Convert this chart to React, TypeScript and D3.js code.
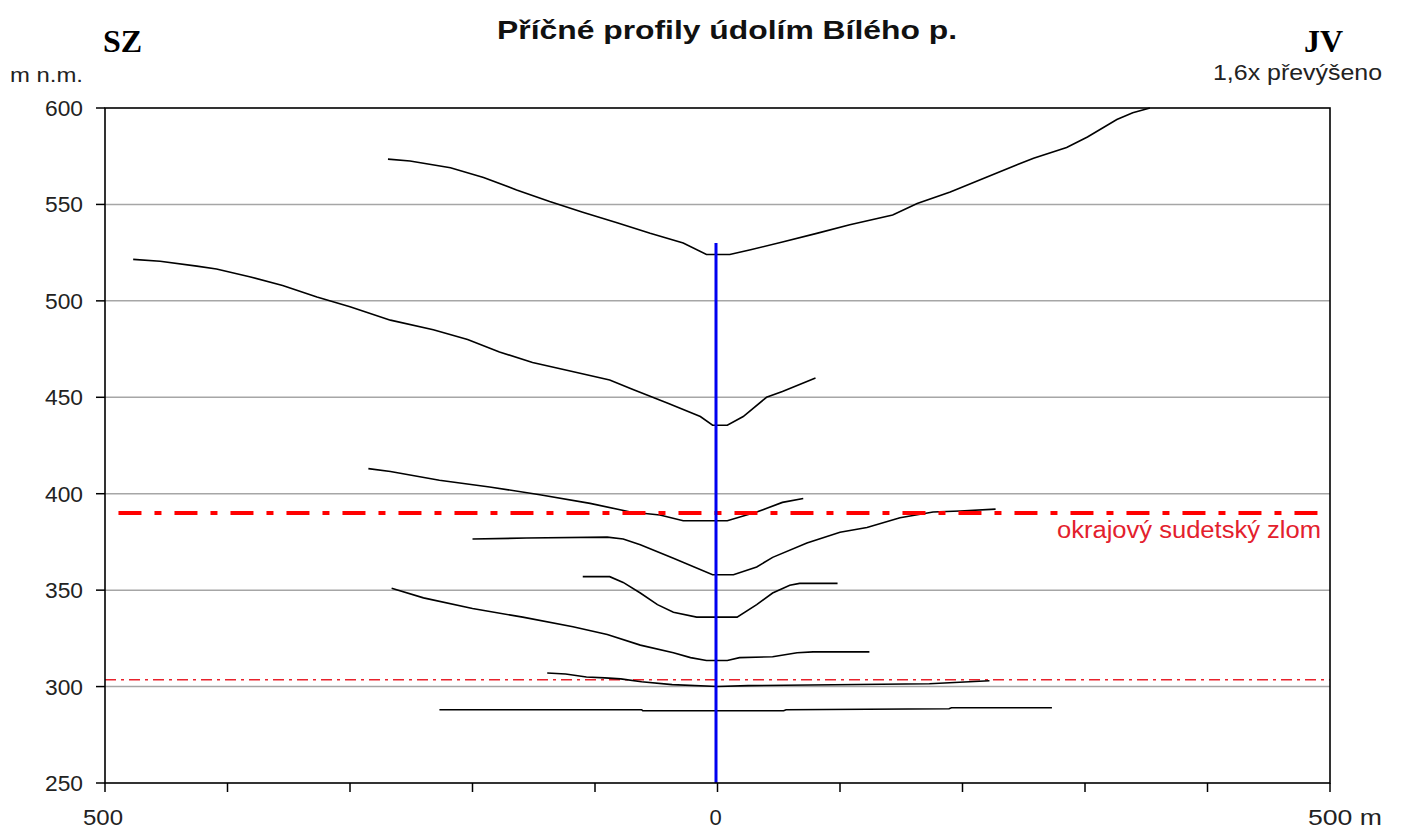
import React, { useEffect } from "react";
import * as d3 from "d3";

// ---- data (m relative to valley axis, m n.m.) ----
const p1x = [-269, -251, -218, -191, -164, -137, -110, -82, -55, -28, -9, 10, 27, 53, 81, 108, 143, 163, 190, 217, 258, 285, 302, 326, 339, 353];
const p1y = [573.5, 572.5, 569, 564, 557.5, 551.5, 546, 540.5, 535, 530, 524, 524, 526.5, 530.5, 535, 539.5, 544.5, 550.5, 556.5, 563.5, 574, 579.5, 585, 594, 597.5, 600];

const p2x = [-477, -455, -425, -409, -382, -355, -327, -300, -267, -232, -204, -178, -151, -123, -88, -69, -41, -14, -4, 8, 21, 40, 53, 80];
const p2y = [521.5, 520.5, 518, 516.5, 512.5, 508, 502, 497, 490, 485, 480, 473.5, 468, 464, 459, 454, 447, 440, 435.5, 435.5, 440, 450, 453, 460];

const p3x = [-285, -267, -227, -186, -145, -104, -71, -47, -28, 8, 32, 53, 70];
const p3y = [413, 411.5, 407, 403.5, 399.5, 395, 390.5, 389, 386, 386, 390.5, 395.5, 397.5];

const p4x = [-200, -156, -90, -77, -63, -36, -4, 13, 32, 45, 73, 100, 122, 149, 176, 198, 227];
const p4y = [376.5, 377, 377.5, 376.5, 373.5, 366.5, 358, 358, 362, 367, 374.5, 380, 382.5, 387.5, 390.5, 391, 392];

const p5x = [-110, -88, -77, -63, -49, -36, -17, 16, 32, 45, 59, 67, 98];
const p5y = [357, 357, 354, 348.5, 342.5, 338.5, 336, 336, 342.5, 348.5, 352.5, 353.5, 353.5];

const p6x = [-266, -240, -200, -159, -118, -90, -63, -36, -22, -9, 8, 18, 45, 65, 78, 124];
const p6y = [351, 346, 340.5, 336, 331, 327, 321.5, 317.5, 315, 313.5, 313.5, 315, 315.5, 317.5, 318, 318];

const p7x = [-139, -124, -107, -92, -79, -62, -37, 0, 25, 173, 222];
const p7y = [307, 306.5, 305, 304.5, 304, 302.5, 301, 300, 300.5, 301.5, 303];

const p8x = [-227, -62, -61, 54, 56, 189, 191, 273];
const p8y = [288, 288, 287.5, 287.5, 288, 288.5, 289, 289];

const profilesX = [p1x, p2x, p3x, p4x, p5x, p6x, p7x, p8x];
const profilesY = [p1y, p2y, p3y, p4y, p5y, p6y, p7y, p8y];

const axisLineX = [0, 0];
const axisLineY = [530, 250];

const faultMainX = [-489, 496];
const faultMainY = 390;
const faultLowX = [-500, 500];
const faultLowY = 303.5;

const yTicks = [600, 550, 500, 450, 400, 350, 300, 250];
const yGrid = [550, 500, 450, 400, 350, 300];
const xTicks = [-500, -400, -300, -200, -100, 0, 100, 200, 300, 400, 500];
const xLabelVals = [-500, 0, 500];
const xLabelTexts = ["500", "0", "500 m"];

const title = "Příčné profily údolím Bílého p.";
const leftDir = "SZ";
const rightDir = "JV";
const yUnit = "m n.m.";
const exaggeration = "1,6x převýšeno";
const faultLabel = "okrajový sudetský zlom";

const W = 1401;
const H = 830;
const left = 105, right = 1330, top = 108, bottom = 783;

const sans = "'Liberation Sans', Arial, sans-serif";
const serif = "'Liberation Serif', 'Times New Roman', serif";

export default function App() {
  useEffect(() => {
    document.body.style.margin = "0";
    document.body.style.overflow = "hidden";
  }, []);

  const x = d3.scaleLinear().domain([-500, 500]).range([left, right]);
  const y = d3.scaleLinear().domain([250, 600]).range([bottom, top]);

  const line = d3
    .line<[number, number]>()
    .x((d) => x(d[0]))
    .y((d) => y(d[1]));

  return (
    <svg width={W} height={H} style={{ display: "block", background: "#fff" }}>
      {/* grid */}
      {yGrid.map((v) => (
        <line key={"g" + v} x1={left} x2={right} y1={y(v)} y2={y(v)} stroke="#a6a6a6" strokeWidth={1.5} />
      ))}

      {/* thin fault line */}
      <line
        x1={x(faultLowX[0])}
        x2={x(faultLowX[1])}
        y1={y(faultLowY)}
        y2={y(faultLowY)}
        stroke="#e8222c"
        strokeWidth={1.6}
        strokeDasharray="11 5 3 5"
      />

      {/* profiles */}
      {profilesX.map((px, i) => (
        <path
          key={"p" + i}
          d={line(px.map((v, j) => [v, profilesY[i][j]] as [number, number])) || ""}
          fill="none"
          stroke="#000"
          strokeWidth={1.6}
        />
      ))}

      {/* main fault */}
      <line
        x1={x(faultMainX[0])}
        x2={x(faultMainX[1])}
        y1={y(faultMainY)}
        y2={y(faultMainY)}
        stroke="#ff0000"
        strokeWidth={4}
        strokeDasharray="23 13 7 13"
      />
      <text
        x={1321}
        y={538}
        textAnchor="end"
        fontFamily={sans}
        fontSize={23}
        fill="#e3202c"
        textLength={264}
        lengthAdjust="spacingAndGlyphs"
      >
        {faultLabel}
      </text>

      {/* valley axis */}
      <line
        x1={x(axisLineX[0]) - 1.5}
        x2={x(axisLineX[1]) - 1.5}
        y1={y(axisLineY[0])}
        y2={y(axisLineY[1])}
        stroke="#0000f0"
        strokeWidth={3}
      />

      {/* frame */}
      <rect x={left} y={top} width={right - left} height={bottom - top} fill="none" stroke="#000" strokeWidth={1.6} />

      {/* y ticks */}
      {yTicks.map((v) => (
        <g key={"yt" + v}>
          <line x1={left - 9} x2={left} y1={y(v)} y2={y(v)} stroke="#000" strokeWidth={1.5} />
          <text
            x={83}
            y={y(v) + 8}
            textAnchor="end"
            fontFamily={sans}
            fontSize={22}
            fill="#222"
            textLength={38}
            lengthAdjust="spacingAndGlyphs"
          >
            {v}
          </text>
        </g>
      ))}

      {/* x ticks */}
      {xTicks.map((v) => (
        <line key={"xt" + v} x1={x(v)} x2={x(v)} y1={bottom} y2={bottom + 9} stroke="#000" strokeWidth={1.5} />
      ))}
      {xLabelVals.map((v, i) => (
        <text
          key={"xl" + v}
          x={i === 2 ? x(v) - 22 : x(v) - 2}
          y={825}
          textAnchor={i === 2 ? "start" : "middle"}
          fontFamily={sans}
          fontSize={22}
          fill="#222"
          textLength={i === 0 ? 40 : i === 2 ? 74 : undefined}
          lengthAdjust="spacingAndGlyphs"
        >
          {xLabelTexts[i]}
        </text>
      ))}

      {/* titles */}
      <text
        x={497}
        y={39}
        fontFamily={sans}
        fontWeight="bold"
        fontSize={26}
        fill="#111"
        textLength={460}
        lengthAdjust="spacingAndGlyphs"
      >
        {title}
      </text>
      <text x={103} y={52} fontFamily={serif} fontWeight="bold" fontSize={32} fill="#000">
        {leftDir}
      </text>
      <text x={1343} y={52} textAnchor="end" fontFamily={serif} fontWeight="bold" fontSize={32} fill="#000">
        {rightDir}
      </text>
      <text
        x={10}
        y={82}
        fontFamily={sans}
        fontSize={21}
        fill="#222"
        textLength={73}
        lengthAdjust="spacingAndGlyphs"
      >
        {yUnit}
      </text>
      <text
        x={1382}
        y={80}
        textAnchor="end"
        fontFamily={sans}
        fontSize={22}
        fill="#222"
        textLength={169}
        lengthAdjust="spacingAndGlyphs"
      >
        {exaggeration}
      </text>
    </svg>
  );
}
